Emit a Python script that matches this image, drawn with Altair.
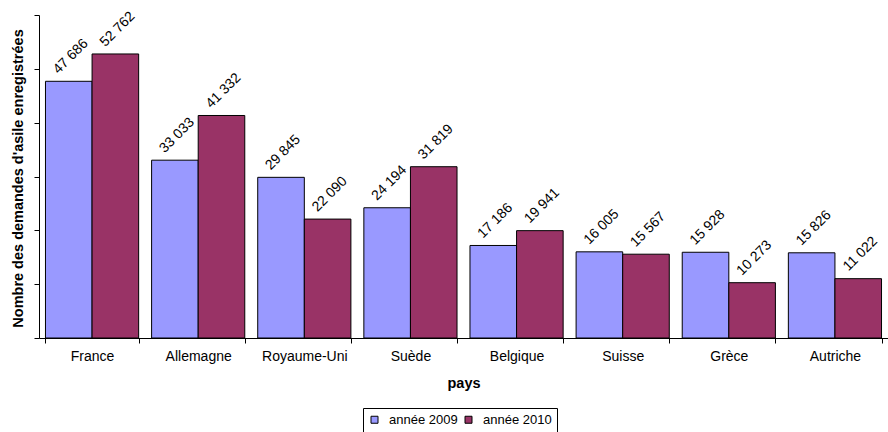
import altair as alt
import pandas as pd

pays = ["France", "Allemagne", "Royaume-Uni", "Suède", "Belgique", "Suisse", "Grèce", "Autriche"]
annee_2009 = [47686, 33033, 29845, 24194, 17186, 16005, 15928, 15826]
annee_2010 = [52762, 41332, 22090, 31819, 19941, 15567, 10273, 11022]
series = ["année 2009", "année 2010"]
colors = ["#9999FF", "#993366"]

rows = []
for i, p in enumerate(pays):
    rows.append({"pays": p, "serie": series[0], "valeur": annee_2009[i]})
    rows.append({"pays": p, "serie": series[1], "valeur": annee_2010[i]})
df = pd.DataFrame(rows)
df["label"] = df["valeur"].map(lambda v: f"{v:,}".replace(",", " "))

FONT = "Liberation Sans"

x = alt.X(
    "pays:N",
    sort=pays,
    scale=alt.Scale(paddingInner=0.122, paddingOuter=0.061),
    axis=alt.Axis(
        title="pays",
        labelAngle=0,
        labelFontSize=14,
        labelFont=FONT,
        labelColor="black",
        labelPadding=6,
        tickBand="extent",
        tickSize=5,
        tickColor="black",
        domainColor="black",
        titleFont=FONT,
        titleFontSize=14.5,
        titleFontWeight="bold",
        titleColor="black",
        titleBaseline="middle",
        titleY=45,
        grid=False,
    ),
)

y = alt.Y(
    "valeur:Q",
    scale=alt.Scale(domain=[0, 60000], nice=False),
    axis=alt.Axis(
        title="Nombre des demandes d'asile enregistrées",
        labels=False,
        values=[0, 10000, 20000, 30000, 40000, 50000, 60000],
        tickSize=5,
        tickColor="black",
        domainColor="black",
        grid=False,
        titleFont=FONT,
        titleFontSize=14.5,
        titleFontWeight="bold",
        titleColor="black",
        titleAngle=270,
        titleAlign="center",
        titleBaseline="middle",
        titleX=-21,
        titleY=163,
    ),
)

color = alt.Color(
    "serie:N",
    sort=series,
    scale=alt.Scale(domain=series, range=colors),
    legend=alt.Legend(
        title=None,
        orient="none",
        direction="horizontal",
        legendX=324,
        legendY=393,
        strokeColor="black",
        fillColor="white",
        padding=5,
        symbolType="square",
        symbolSize=49,
        symbolStrokeColor="black",
        symbolStrokeWidth=1,
        labelFont=FONT,
        labelFontSize=13,
        labelColor="black",
        labelOffset=8,
        columnPadding=4,
    ),
)

bars = alt.Chart(df).mark_bar(stroke="black", strokeWidth=1).encode(
    x=x,
    xOffset=alt.XOffset("serie:N", sort=series),
    y=y,
    color=color,
)

labels = alt.Chart(df).mark_text(
    angle=315,
    align="center",
    baseline="middle",
    dx=19,
    dy=-16,
    font=FONT,
    fontSize=14,
    color="black",
).encode(
    x=alt.X("pays:N", sort=pays),
    xOffset=alt.XOffset("serie:N", sort=series),
    y=alt.Y("valeur:Q"),
    text="label:N",
)

chart = (
    alt.layer(bars, labels)
    .properties(
        width=849,
        height=323,
        autosize=alt.AutoSizeParams(type="none"),
        padding={"left": 39, "top": 15, "right": 0, "bottom": 94},
        background="white",
    )
    .configure_view(stroke=None)
)

chart.save("out.html", embed_options={"renderer": "svg", "actions": False})
